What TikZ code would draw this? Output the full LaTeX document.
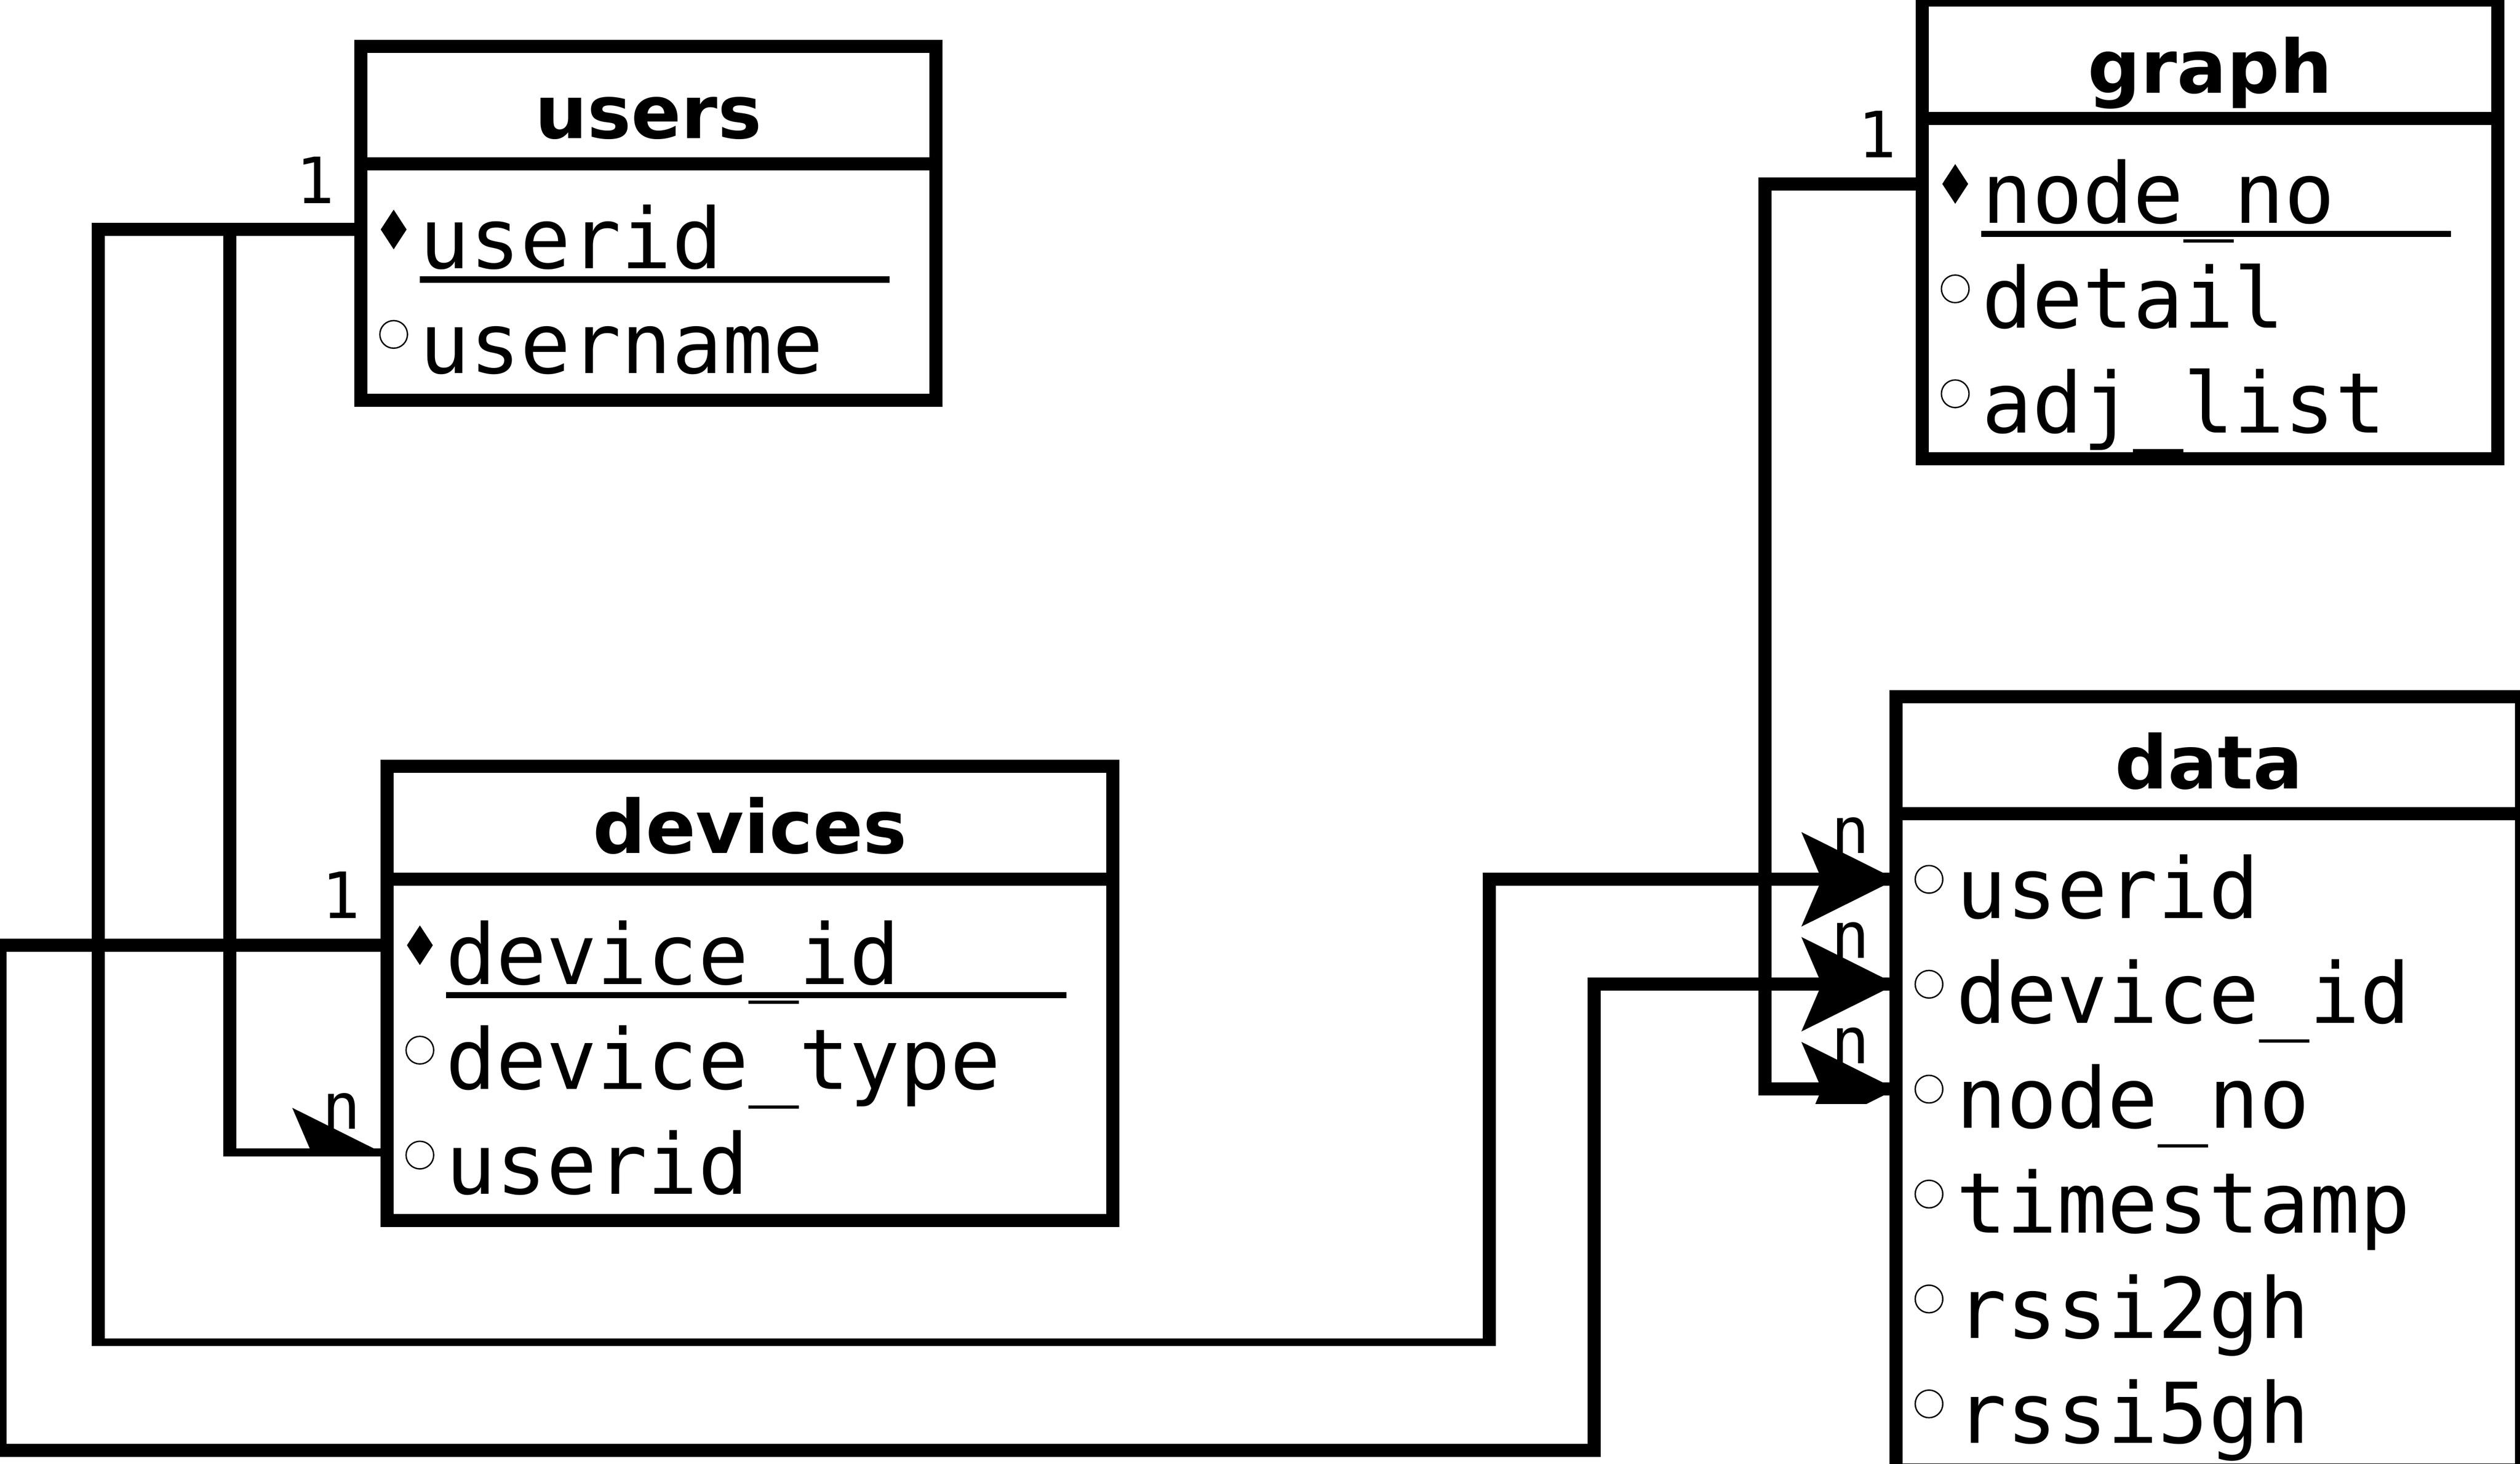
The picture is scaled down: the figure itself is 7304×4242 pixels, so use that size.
\documentclass[tikz,border=0pt]{standalone}
\usepackage{fontspec}
\newfontfamily\fieldfont{DejaVu Sans Mono}
\newfontfamily\headfont{DejaVu Sans}
\begin{document}
\begin{tikzpicture}[x=0.1pt,y=-0.1pt,
  frame/.style={line width=3.8pt, line join=miter},
  conn/.style={line width=3.8pt, line join=miter, line cap=butt},
  uline/.style={line width=1.8pt},
  field/.style={anchor=base west, inner sep=0pt, font=\fieldfont\fontsize{24.3}{24.3}\selectfont},
  tabtitle/.style={anchor=base, inner sep=0pt, font=\headfont\bfseries\fontsize{21.4}{21.4}\selectfont},
  card/.style={anchor=base east, inner sep=0pt, font=\fieldfont\fontsize{18.5}{18.5}\selectfont},
  keypic/.pic={\fill (0,-57.5) -- (37.5,0) -- (0,57.5) -- (-37.5,0) -- cycle;},
  attrpic/.pic={\draw[line width=0.4pt] (0,0) circle[radius=40];},
  headpic/.pic={\fill (0,0) -- (-275,-137) -- (-216,0) -- (-275,137) -- cycle;}
]
\useasboundingbox (0,0) rectangle (7304,4242);

% ---- row anchors ----
\coordinate (users-userid) at (1046,665);
\coordinate (users-username) at (1046,969);
\coordinate (graph-nodeno) at (5572,533);
\coordinate (graph-detail) at (5572,837);
\coordinate (graph-adjlist) at (5572,1141);
\coordinate (devices-deviceid) at (1122,2739);
\coordinate (devices-devicetype) at (1122,3043);
\coordinate (devices-userid) at (1122,3347);
\coordinate (data-userid) at (5496,2548);
\coordinate (data-deviceid) at (5496,2852);
\coordinate (data-nodeno) at (5496,3156);
\coordinate (data-timestamp) at (5496,3460);
\coordinate (data-rssi2gh) at (5496,3764);
\coordinate (data-rssi5gh) at (5496,4068);

% ---- connectors ----
\begin{scope}
  \clip (-300,-300) rectangle (7600,3900);
  \draw[conn] (users-userid) -- (285,665) -- (285,3898) -- (4317,3898) -- (4317,2548) -- (data-userid);
  \pic at (data-userid) {headpic};
\end{scope}
\begin{scope}
  \clip (-300,-300) rectangle (7600,3350);
  \draw[conn] (users-userid) -- (666,665) -- (666,3347) -- (devices-userid);
  \pic at (devices-userid) {headpic};
\end{scope}
\draw[conn] (devices-deviceid) -- (0,2739) -- (0,4203) -- (4621,4203) -- (4621,2852) -- (data-deviceid);
\pic at (data-deviceid) {headpic};
\begin{scope}
  \clip (-300,-300) rectangle (7600,3199);
  \draw[conn] (graph-nodeno) -- (5115,533) -- (5115,3156) -- (data-nodeno);
  \pic at (data-nodeno) {headpic};
\end{scope}

% ---- cardinality labels ----
\node[card] (c-users) at (972,589) {1};
\node[card] (c-devices1) at (1046,2661) {1};
\node[card] (c-graph) at (5499,457) {1};
\node[card] (c-devicesn) at (1047,3271) {n};
\node[card] (c-data1) at (5421,2472) {n};
\node[card] (c-data2) at (5421,2776) {n};
\node[card] (c-data3) at (5421,3081) {n};

% ---- users ----
\draw[frame] (1046,134) rectangle (2712,1160);
\draw[frame] (1046,475) -- (2712,475);
\node[tabtitle] (users) at (1879,401) {users};
\pic at (1141,665) {keypic};
\node[field] (users-f1) at (1214,778) {userid};
\draw[uline] (1217,810) -- (2578,810);
\pic at (1141,969) {attrpic};
\node[field] (users-f2) at (1214,1082) {username};

% ---- graph ----
\draw[frame] (5572,0) rectangle (7240,1330);
\draw[frame] (5572,343) -- (7240,343);
\node[tabtitle] (graph) at (6406,269) {graph};
\pic at (5667,533) {keypic};
\node[field] (graph-f1) at (5742,646) {node\_no};
\draw[uline] (5743,678) -- (7104,678);
\pic at (5667,837) {attrpic};
\node[field] (graph-f2) at (5742,950) {detail};
\pic at (5667,1141) {attrpic};
\node[field] (graph-f3) at (5742,1254) {adj\_list};

% ---- devices ----
\draw[frame] (1122,2220) rectangle (3225,3536);
\draw[frame] (1122,2548) -- (3225,2548);
\node[tabtitle] (devices) at (2174,2473) {devices};
\pic at (1217,2739) {keypic};
\node[field] (devices-f1) at (1290,2852) {device\_id};
\draw[uline] (1293,2884) -- (3091,2884);
\pic at (1217,3043) {attrpic};
\node[field] (devices-f2) at (1290,3156) {device\_type};
\pic at (1217,3347) {attrpic};
\node[field] (devices-f3) at (1290,3460) {userid};

% ---- data ----
\draw[frame] (5496,2019) rectangle (7308,4259);
\draw[frame] (5496,2358) -- (7308,2358);
\node[tabtitle] (data) at (6402,2285) {data};
\pic at (5591,2548) {attrpic};
\node[field] (data-f1) at (5668,2661) {userid};
\pic at (5591,2852) {attrpic};
\node[field] (data-f2) at (5668,2965) {device\_id};
\pic at (5591,3156) {attrpic};
\node[field] (data-f3) at (5668,3269) {node\_no};
\pic at (5591,3460) {attrpic};
\node[field] (data-f4) at (5668,3573) {timestamp};
\pic at (5591,3764) {attrpic};
\node[field] (data-f5) at (5668,3877) {rssi2gh};
\pic at (5591,4068) {attrpic};
\node[field] (data-f6) at (5668,4181) {rssi5gh};
\end{tikzpicture}
\end{document}
